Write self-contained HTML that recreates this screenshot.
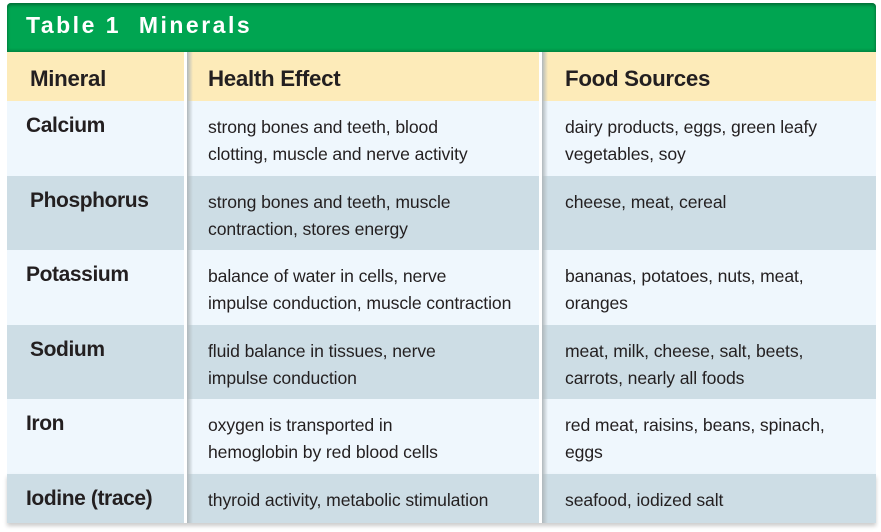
<!DOCTYPE html><html><head><style>
body{margin:0;width:881px;height:532px;background:#fff;position:relative;font-family:"Liberation Sans",sans-serif;overflow:hidden}
.a{position:absolute}
.t{position:absolute;color:#231f20;white-space:nowrap}
.h{font-size:22.3px;font-weight:bold;letter-spacing:-0.3px}
.m{font-size:21px;font-weight:bold;letter-spacing:-0.4px}
.b{font-size:17.6px;line-height:27px;letter-spacing:-0.1px}
.sh{position:absolute;width:6px;background:linear-gradient(90deg,#b0b8bc,rgba(0,0,0,0))}
</style></head><body>
<div class="a" style="left:7px;top:3px;width:869px;height:49px;background:#00a551;border-radius:4px 4px 0 0;box-shadow:0 2px 3px #006b35 inset,0 -2px 2px #008a44 inset"></div>
<div class="t" style="left:26px;top:12px;color:#fff;font-size:23px;font-weight:900;letter-spacing:2.5px">Table 1&nbsp; Minerals</div>
<div class="a" style="left:7px;top:52px;width:869px;height:49px;background:#fdebb9"></div>
<div class="a" style="left:7px;top:101px;width:869px;height:75px;background:#eff7fd"></div>
<div class="a" style="left:7px;top:176px;width:869px;height:74px;background:#cddde5"></div>
<div class="a" style="left:7px;top:250px;width:869px;height:75px;background:#eff7fd"></div>
<div class="a" style="left:7px;top:325px;width:869px;height:74px;background:#cddde5"></div>
<div class="a" style="left:7px;top:399px;width:869px;height:75px;background:#eff7fd"></div>
<div class="a" style="left:7px;top:474px;width:869px;height:49px;background:#cddde5;box-shadow:0 3px 4px #ccc"></div>
<div class="a" style="left:184px;top:52px;width:3px;height:471px;background:#fff"></div>
<div class="sh" style="left:187px;top:52px;height:471px"></div>
<div class="a" style="left:539px;top:52px;width:3px;height:471px;background:#fff"></div>
<div class="sh" style="left:542px;top:52px;height:471px"></div>
<div class="t h" style="left:30px;top:66px">Mineral</div>
<div class="t h" style="left:208px;top:66px">Health Effect</div>
<div class="t h" style="left:565px;top:66px">Food Sources</div>
<div class="t m" style="left:26px;top:114px">Calcium</div>
<div class="t m" style="left:30px;top:189px">Phosphorus</div>
<div class="t m" style="left:26px;top:263px">Potassium</div>
<div class="t m" style="left:30px;top:338px">Sodium</div>
<div class="t m" style="left:26px;top:412px">Iron</div>
<div class="t m" style="left:26px;top:487px">Iodine (trace)</div>
<div class="t b" style="left:208px;top:114px">strong bones and teeth, blood<br>clotting, muscle and nerve activity</div>
<div class="t b" style="left:565px;top:114px">dairy products, eggs, green leafy<br>vegetables, soy</div>
<div class="t b" style="left:208px;top:189px">strong bones and teeth, muscle<br>contraction, stores energy</div>
<div class="t b" style="left:565px;top:189px">cheese, meat, cereal</div>
<div class="t b" style="left:208px;top:263px">balance of water in cells, nerve<br>impulse conduction, muscle contraction</div>
<div class="t b" style="left:565px;top:263px">bananas, potatoes, nuts, meat,<br>oranges</div>
<div class="t b" style="left:208px;top:338px">fluid balance in tissues, nerve<br>impulse conduction</div>
<div class="t b" style="left:565px;top:338px">meat, milk, cheese, salt, beets,<br>carrots, nearly all foods</div>
<div class="t b" style="left:208px;top:412px">oxygen is transported in<br>hemoglobin by red blood cells</div>
<div class="t b" style="left:565px;top:412px">red meat, raisins, beans, spinach,<br>eggs</div>
<div class="t b" style="left:208px;top:487px">thyroid activity, metabolic stimulation</div>
<div class="t b" style="left:565px;top:487px">seafood, iodized salt</div>
</body></html>
